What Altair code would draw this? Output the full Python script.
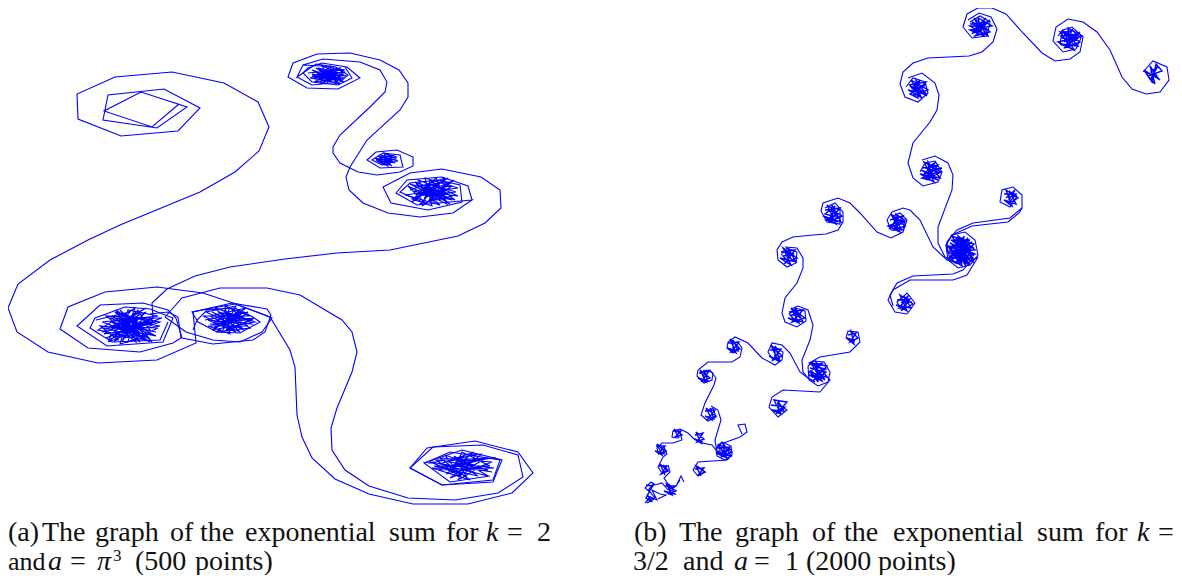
import altair as alt
import pandas as pd

# ---------- panel (a): curves ----------
A_TOPLEFT_TO_CLUSTER = [(179,104),(152,127),(104,111),(141,92),(187,107),(157,128),(103,120),(108,95),(164,89),(200,108),(178,131),(121,136),(78,119),(77,94),(115,77),(172,72),(224,83),(258,102),(269,127),(259,151),(235,172),(200,192),(120,225),(88,240),(50,260),(18,284),(8,308),(17,332),(48,352),(98,363),(157,360),(196,343),(193,312),(232,303),(267,309),(271,315),(265,332),(253,340),(213,344),(182,338),(176,318),(168,310),(143,303),(100,305),(77,326),(107,346),(163,342),(173,318),(150,309),(125,307),(95,318),(90,328),(112,342),(160,340),(168,322)]
A_LEFT_TO_BOTTOM = [(150,314),(168,312),(178,317),(181,338),(173,343),(140,352),(88,348),(60,329),(68,307),(105,292),(157,287),(203,293),(233,303),(270,317),(290,350),(295,367),(297,415),(302,437),(312,458),(335,479),(369,494),(413,504),(468,504),(512,493),(533,473),(518,452),(475,441),(427,448),(410,468),(442,485),(493,482),(502,460),(462,450),(424,463),(450,482),(490,476)]
A_CLUSTER2_RINGS = [(193,330),(197,320),(207,310),(235,308),(253,317),(260,322),(240,333),(217,332),(198,322),(192,312),(235,304),(262,314),(272,318),(262,332),(240,342),(213,340),(186,332),(165,317)]
A_LONG_S = [(153,318),(152,303),(167,289),(195,276),(230,267),(285,259),(337,253),(390,250),(458,236),(485,223),(501,208),(500,190),(481,177),(442,169),(410,173),(383,187),(391,203),(428,210),(462,202),(460,185),(438,180),(410,183),(400,192),(425,203)]
A_BOTTOM_TO_TOP = [(165,317),(182,298),(220,288),(267,288),(300,295),(342,320),(352,332),(357,352),(352,372),(337,408),(331,428),(332,450),(345,470),(369,486),(408,498),(455,500),(498,493),(523,477),(518,455),(483,445),(433,447),(410,468),(442,485),(493,480),(500,460),(450,452),(425,463)]
A_RIGHT_TO_TOP = [(472,200),(468,186),(442,177),(407,180),(396,193),(417,205),(472,200),(453,213),(420,217),(388,213),(363,203),(349,190),(346,177),(350,167),(367,140),(400,110),(408,97),(408,83),(399,70),(380,60),(350,53),(317,54),(293,63),(288,77),(307,88),(338,89),(360,78),(347,67),(322,63),(308,68),(303,73),(312,82),(338,85),(352,78),(345,67)]
A_TOP_S = [(345,70),(322,66),(303,65),(297,77),(312,85),(340,82),(348,75),(336,67),(316,64),(297,77),(303,65),(323,59),(360,62),(380,70),(387,82),(385,92),(370,107),(340,135),(333,147),(333,153),(340,163),(358,172),(377,175),(400,172),(413,166),(413,157),(397,150),(376,152),(367,160),(380,168),(403,167),(400,155),(383,153),(372,160),(382,165)]

A_DENSE_TOP = [(308,73),(338,70),(314,82),(344,78),(316,68),(340,84),(312,76),(345,72),(320,84),(330,66),(336,84),(312,70),(342,80),(318,73),(346,76),(322,66),(332,82),(310,78),(340,68),(326,84),(316,72),(344,82),(322,70),(336,78),(314,78),(338,74),(320,80),(330,70),(342,75),(318,78),(334,68),(325,82),(312,74),(340,78),(328,68),(322,76),(336,72),(318,68),(330,78),(344,70),(324,72),(334,76),(316,76),(338,81),(326,75),(332,71),(320,76),(328,80)]
A_DENSE_CENTER = [(376,160),(394,155),(382,165),(398,161),(378,156),(392,166),(380,160),(397,157),(384,153),(388,166),(375,158),(395,163),(383,156),(391,160),(379,163),(396,159),(386,154),(385,165),(377,161),(393,158),(381,155),(390,164),(384,160),(394,162),(378,159),(388,156)]
A_DENSE_RIGHT = [(410,190),(445,178),(420,204),(452,196),(415,182),(440,205),(405,195),(458,188),(425,178),(432,206),(412,199),(450,182),(418,186),(455,200),(430,180),(424,202),(408,186),(447,204),(436,178),(416,196),(456,192),(428,184),(440,200),(414,191),(452,186),(422,206),(444,190),(418,180),(436,204),(426,192),(458,196),(432,184),(412,202),(448,178),(420,194),(442,198),(430,188),(450,204),(416,184),(438,192),(424,198),(454,180),(434,196),(410,184),(446,194),(428,202),(440,182),(422,188),(452,200),(418,192)]
A_DENSE_LEFT = [(96,320),(130,312),(108,340),(150,322),(115,312),(145,340),(98,330),(135,308),(122,342),(140,312),(104,334),(160,326),(118,318),(148,338),(102,322),(158,316),(128,310),(118,340),(100,326),(150,330),(138,310),(110,336),(152,318),(106,316),(140,342),(126,320),(156,336),(112,328),(146,312),(114,342),(132,316),(152,342),(120,310),(138,336),(104,328),(156,322),(116,334),(162,318),(110,318),(150,334),(124,338),(144,318),(110,326),(158,328),(128,342),(134,320),(108,342),(160,322),(118,314),(140,334),(112,316),(150,342),(122,328),(148,322),(106,338),(154,318),(130,332),(116,310),(144,330),(126,314),(136,342),(112,322),(156,332),(120,324),(146,308),(102,332),(134,326),(142,338),(120,344),(128,318)]
A_DENSE_RIGHT2 = [(205,320),(245,312),(212,330),(255,322),(215,308),(240,332),(203,316),(250,316),(225,306),(230,334),(208,326),(248,326),(218,312),(252,320),(222,332),(236,306),(206,312),(244,330),(228,314),(214,322),(254,318),(232,328),(210,316),(246,308),(220,326),(238,318),(216,332),(250,328),(224,310),(234,322),(212,312),(242,326),(226,330),(248,312),(218,320),(236,332),(208,320),(252,324),(230,308),(222,322),(244,316),(214,328),(240,310),(228,326),(210,324),(246,320),(232,314),(220,316)]
A_DENSE_BOTTOM = [(428,463),(482,454),(450,478),(492,462),(440,458),(470,480),(432,468),(488,470),(445,455),(462,478),(436,460),(496,458),(456,462),(478,476),(434,466),(490,466),(462,452),(452,472),(444,468),(486,458),(466,470),(476,454),(448,462),(494,468),(438,470),(470,460),(458,480),(482,466),(446,474),(474,452),(440,464),(488,476),(454,456),(466,476),(430,462),(492,472),(460,466),(480,460),(450,468),(464,456)]

# ---------- panel (b): curves ----------
B_ARM_1 = [(1143,72),(1153,61),(1167,67),(1169,80),(1160,92),(1146,94),(1132,89),(1122,77),(1110,50),(1097,32),(1083,22),(1068,19),(1056,27),(1053,41),(1063,52),(1076,49),(1081,38),(1072,30),(1062,33),(1060,44)]
B_ARM_1B = [(1058,36),(1063,30),(1072,27),(1083,37),(1080,52),(1070,59),(1055,61),(1042,53),(1023,33),(1006,14),(992,8),(978,8),(967,14),(963,27),(972,38),(987,36),(990,22),(980,16),(970,22)]
B_ARM_1C = [(968,20),(979,13),(991,17),(997,29),(993,42),(982,52),(969,56),(928,58),(913,63),(903,72),(900,84),(905,97),(918,102),(928,93),(925,82),(913,78),(906,87)]
B_ARM_1D = [(908,78),(922,73),(935,83),(939,95),(937,110),(930,122),(913,143),(908,163),(913,178),(923,186),(938,182),(942,172),(935,161),(925,163),(920,172)]
B_ARM_1E = [(922,160),(935,156),(948,163),(953,175),(952,190),(938,227),(938,243),(945,257),(955,263)]
B_ARM_2 = [(955,262),(947,260),(933,247),(920,220),(910,210),(903,208),(892,212),(887,220),(891,230),(903,230),(905,220),(897,216)]
B_ARM_2B = [(893,216),(900,213),(907,220),(903,232),(891,238),(877,232),(860,213),(850,203),(838,198),(823,203),(821,211),(827,222),(840,224),(840,210),(830,207)]
B_ARM_2C = [(825,208),(835,203),(843,212),(843,222),(838,230),(826,234),(813,235),(793,237),(782,242),(777,250),(778,260),(787,267),(796,263),(797,252),(787,248),(781,255)]
B_ARM_2D = [(785,247),(797,248),(803,258),(803,268),(797,283),(785,298),(782,313),(785,322),(797,327),(806,321),(805,311),(796,308),(789,314)]
B_ARM_2E = [(791,309),(798,306),(808,310),(813,325),(810,340),(802,360),(803,372),(808,378),(815,382)]
B_RING_C5 = [(946,245),(952,235),(965,232),(975,240),(978,255),(970,265),(958,268),(948,260),(946,245)]
B_RING_C12 = [(808,366),(814,361),(824,362),(830,372),(828,382),(818,386),(809,380),(808,366)]
B_RING_C19 = [(716,448),(722,442),(731,446),(732,455),(725,460),(717,456),(716,448)]
B_ARM_C6A = [(950,258),(946,245),(952,235),(972,226),(1008,222),(1019,213),(1022,208),(1022,195),(1013,187),(1002,190),(1000,202),(1010,207),(1017,196),(1010,192)]
B_ARM_C6B = [(948,252),(947,242),(957,230),(973,223),(1010,218),(1022,208)]
B_ARM_C7A = [(970,262),(978,257),(967,275),(953,280),(910,280),(893,290),(888,300),(895,312),(907,314),(915,303),(907,293),(897,302),(902,311)]
B_ARM_C7B = [(968,254),(973,258),(963,270),(953,274),(913,276),(897,283),(890,295),(893,306)]
B_ARM_3 = [(815,382),(808,378),(800,372),(790,353),(782,345),(772,343),(768,352),(773,360),(780,356)]
B_ARM_3B = [(775,347),(783,352),(782,360),(775,365),(762,358),(748,343),(735,337),(728,342),(727,348),(733,353),(739,348),(734,342)]
B_ARM_3C = [(737,341),(742,348),(740,357),(732,362),(708,362),(698,370),(697,376),(704,383),(712,380),(713,373),(706,370)]
B_ARM_3D = [(703,371),(710,370),(716,378),(714,385),(705,403),(701,415),(708,421),(716,417),(713,408),(708,411)]
B_ARM_3E = [(711,406),(718,410),(721,420),(715,440),(717,452),(722,456)]
B_ARM_C13 = [(814,366),(809,363),(820,357),(850,352),(860,342),(858,332),(848,331),(846,338),(853,343)]
B_ARM_C14 = [(825,375),(830,380),(820,392),(783,390),(772,397),(769,407),(778,417),(787,410),(777,403)]
B_ARM_4 = [(720,455),(712,445),(702,443),(693,438),(688,433),(680,429),(673,431),(672,437),(678,438)]
B_ARM_4B = [(680,432),(682,440),(673,443),(662,443),(657,448),(658,453),(665,452),(660,447)]
B_ARM_4C = [(664,447),(667,454),(663,457),(658,467),(662,473),(668,470),(663,465)]
B_ARM_4D = [(668,465),(670,472),(664,478),(668,484),(670,490)]
B_ARM_C24 = [(720,450),(718,445),(740,437),(747,432),(745,424),(738,425),(742,434)]
B_ARM_C25 = [(730,457),(727,460),(698,462),(693,470),(698,476),(705,472),(697,466)]
B_ARM_C27 = [(668,490),(676,486),(680,480),(677,484),(681,476),(684,482)]
B_ARM_END = [(668,490),(662,483),(655,485),(651,482),(645,488),(650,492),(655,498),(648,500),(645,503),(650,497),(657,500),(652,490),(660,494),(666,495),(658,499)]

B_DENSE_C0 = [(1146,72),(1158,78),(1150,66),(1155,84),(1148,76),(1162,71),(1156,64),(1152,82),(1144,70),(1160,80),(1151,72),(1158,66),(1150,80),(1156,74)]
B_DENSE_C1 = [(1060,36),(1078,34),(1064,48),(1080,42),(1062,30),(1074,50),(1058,42),(1082,36),(1068,28),(1070,48),(1060,44),(1078,46),(1066,32),(1076,40),(1062,38),(1072,30),(1066,46),(1080,32),(1064,42),(1074,36),(1060,32),(1068,44),(1078,38),(1070,34),(1066,38),(1076,46)]
B_DENSE_C2 = [(970,24),(988,22),(975,36),(990,32),(974,18),(984,36),(970,30),(992,26),(978,18),(982,34),(972,22),(988,30),(976,28),(986,18),(972,34),(990,20),(980,26),(974,30),(986,34),(978,22),(984,26),(970,26),(988,36),(982,20)]
B_DENSE_C3 = [(909,85),(926,82),(913,96),(928,90),(911,80),(922,98),(908,90),(926,94),(916,80),(918,98),(910,94),(924,86),(914,84),(927,96),(912,88),(920,80),(916,92),(924,92),(910,86),(920,96),(914,90),(926,84)]
B_DENSE_C4 = [(922,168),(938,165),(926,180),(941,172),(924,162),(934,182),(920,174),(940,178),(928,162),(930,180),(922,178),(938,172),(926,168),(936,162),(924,174),(942,168),(930,170),(934,176),(921,170),(938,180),(928,176),(936,168)]
B_DENSE_C5 = [(950,243),(972,254),(955,263),(974,244),(952,236),(968,264),(948,252),(975,250),(958,236),(962,266),(949,258),(973,258),(954,240),(970,240),(950,248),(966,262),(956,238),(974,248),(948,246),(960,264),(964,236),(957,262),(972,246),(951,254),(968,238),(954,258),(975,254),(952,244),(966,266),(958,242),(970,260),(950,250),(962,238),(973,262),(954,252),(968,244),(956,264),(965,250),(951,240),(971,250),(959,258),(963,244),(953,248),(967,256),(957,246),(969,252),(960,240),(964,262),(955,254),(972,242),(952,260),(966,242),(958,252),(962,256),(956,248),(970,264),(950,256),(964,252),(960,246),(974,256)]
B_DENSE_C6 = [(1004,194),(1016,194),(1008,204),(1018,198),(1006,190),(1012,206),(1004,200),(1016,204),(1010,192),(1009,200),(1015,190),(1006,198)]
B_DENSE_C7 = [(897,300),(910,299),(902,310),(913,304),(900,295),(907,311),(896,305),(911,308),(904,296),(906,306),(899,308),(909,295),(902,302),(912,302)]
B_DENSE_C8 = [(890,220),(903,216),(894,230),(905,226),(891,214),(900,232),(888,226),(904,220),(896,214),(897,230),(892,224),(902,230),(894,218),(905,222),(890,228),(899,216),(896,224),(902,224)]
B_DENSE_C9 = [(825,210),(840,208),(829,222),(842,216),(827,205),(836,224),(823,216),(841,222),(832,205),(833,222),(826,220),(838,214),(830,210),(840,218),(825,214),(835,206),(830,218),(838,222)]
B_DENSE_C10 = [(781,252),(795,250),(785,263),(797,258),(783,248),(791,265),(780,258),(796,262),(788,248),(789,262),(783,256),(794,254),(786,252),(792,260)]
B_DENSE_C11 = [(789,312),(803,310),(792,322),(805,318),(791,308),(799,323),(788,318),(803,322),(795,307),(796,321),(790,315),(801,314),(794,312),(800,318)]
B_DENSE_C12 = [(810,368),(826,372),(813,381),(827,366),(811,363),(822,381),(809,375),(827,377),(816,362),(818,382),(811,371),(825,380),(814,365),(823,363),(809,372),(820,379),(816,367),(826,369),(812,377),(822,372),(817,374),(824,375)]
B_DENSE_C13 = [(848,335),(856,333),(850,342),(858,338),(851,331),(854,344),(847,338),(855,341)]
B_DENSE_C14 = [(771,405),(785,407),(776,414),(787,402),(774,400),(781,414),(772,410),(784,411),(778,401),(779,410)]
B_DENSE_C15 = [(770,350),(781,349),(773,360),(782,356),(771,345),(778,361),(769,356),(780,361),(775,346),(775,358)]
B_DENSE_C16 = [(728,343),(739,342),(731,352),(740,349),(730,339),(736,353),(727,348),(738,351),(733,340),(733,350)]
B_DENSE_C17 = [(699,373),(709,371),(702,381),(710,378),(700,370),(706,382),(698,378),(708,381),(704,370),(704,379)]
B_DENSE_C18 = [(705,411),(715,410),(708,419),(716,416),(706,408),(712,420),(705,416),(714,419),(710,408)]
B_DENSE_C19 = [(717,448),(730,447),(721,457),(732,452),(718,444),(727,458),(716,453),(731,456),(723,443),(725,456),(718,451),(729,450),(722,446),(727,454),(720,454),(731,449)]
B_DENSE_C20 = [(695,435),(703,433),(697,442),(704,439),(696,432),(701,443),(694,439),(703,442)]
B_DENSE_C21 = [(673,431),(681,431),(675,437),(682,435),(674,429),(679,438)]
B_DENSE_C22 = [(656,446),(665,446),(658,454),(666,451),(657,444),(662,455),(655,451),(665,454)]
B_DENSE_C23 = [(659,466),(667,466),(661,474),(668,471),(660,464),(665,475)]
B_DENSE_C25 = [(695,469),(704,468),(698,475),(705,472),(696,466),(701,476)]
B_DENSE_C26 = [(665,486),(675,486),(668,494),(676,491),(666,483),(672,495),(664,491),(675,494),(669,484),(670,492)]
B_DENSE_C28 = [(646,485),(653,486),(648,491),(654,483),(646,498),(652,502),(648,496),(654,499),(647,503)]

CURVES = {
    "a1": A_TOPLEFT_TO_CLUSTER, "a2": A_LEFT_TO_BOTTOM, "a3": A_CLUSTER2_RINGS, "a4": A_LONG_S,
    "a5": A_BOTTOM_TO_TOP, "a6": A_RIGHT_TO_TOP, "a8": A_TOP_S,
    "a9": A_DENSE_TOP, "a10": A_DENSE_CENTER, "a11": A_DENSE_RIGHT, "a12": A_DENSE_LEFT,
    "a13": A_DENSE_RIGHT2, "a14": A_DENSE_BOTTOM,
    "b1": B_ARM_1, "b1b": B_ARM_1B, "b1c": B_ARM_1C, "b1d": B_ARM_1D, "b1e": B_ARM_1E,
    "b2": B_ARM_2, "b2b": B_ARM_2B, "b2c": B_ARM_2C, "b2d": B_ARM_2D, "b2e": B_ARM_2E,
    "r5": B_RING_C5, "r12": B_RING_C12, "r19": B_RING_C19,
    "b4": B_ARM_C6A, "b5": B_ARM_C6B, "b6": B_ARM_C7A, "b7": B_ARM_C7B,
    "b8": B_ARM_3, "b8b": B_ARM_3B, "b8c": B_ARM_3C, "b8d": B_ARM_3D, "b8e": B_ARM_3E,
    "b9": B_ARM_C13, "b10": B_ARM_C14,
    "b11": B_ARM_4, "b11b": B_ARM_4B, "b11c": B_ARM_4C, "b11d": B_ARM_4D,
    "b12": B_ARM_C24, "b13": B_ARM_C25, "b14": B_ARM_C27, "b15": B_ARM_END,
}
DENSE = {
    "c0": B_DENSE_C0, "c1": B_DENSE_C1, "c2": B_DENSE_C2, "c3": B_DENSE_C3, "c4": B_DENSE_C4, "c5": B_DENSE_C5,
    "c6": B_DENSE_C6, "c7": B_DENSE_C7, "c8": B_DENSE_C8, "c9": B_DENSE_C9, "c10": B_DENSE_C10, "c11": B_DENSE_C11,
    "c12": B_DENSE_C12, "c13": B_DENSE_C13, "c14": B_DENSE_C14, "c15": B_DENSE_C15, "c16": B_DENSE_C16,
    "c17": B_DENSE_C17, "c18": B_DENSE_C18, "c19": B_DENSE_C19, "c20": B_DENSE_C20, "c21": B_DENSE_C21,
    "c22": B_DENSE_C22, "c23": B_DENSE_C23, "c25": B_DENSE_C25, "c26": B_DENSE_C26, "c28": B_DENSE_C28,
}

# ---------- captions ----------
L1 = 541
L2 = 570
ROMAN = [("(a)",8,L1),("The",42,L1),("graph",95,L1),("of",170,L1),("the",200,L1),("exponential",245,L1),
         ("sum",389,L1),("for",446,L1),("=",507,L1),("2",537,L1),("=",70,L2),("(500",135,L2),("points)",195,L2),
         ("(b)",634,L1),("The",679,L1),("graph",735,L1),("of",812,L1),("the",844,L1),("exponential",893,L1),
         ("sum",1037,L1),("for",1095,L1),("=",1158,L1),("3/2",633,L2),("and",683,L2),("=",754,L2),("1",785,L2),("(2000",806,L2),("points)",878,L2)]
ROMAN_SMALL = [("and",8,L2)]
ITALIC = [("k",486,L1),("a",48,L2),("π",97,L2),("k",1137,L1),("a",734,L2)]
SUPER = [("3",113,L2 - 9)]


def frame(curves):
    rows = [{"curve": k, "i": i, "x": p[0], "y": p[1]} for k, pts in curves.items() for i, p in enumerate(pts)]
    return pd.DataFrame(rows)


X = alt.X("x:Q", axis=None, scale=alt.Scale(domain=[8, 1174], nice=False, zero=False))
Y = alt.Y("y:Q", axis=None, scale=alt.Scale(domain=[575, 8], nice=False, zero=False))


def line_layer(curves, w):
    return alt.Chart(frame(curves)).mark_line(color="#0000ff", strokeWidth=w, interpolate="linear").encode(
        x=X, y=Y, detail="curve:N", order="i:Q")


def text_layer(items, **kw):
    d = pd.DataFrame(items, columns=["t", "x", "y"])
    return alt.Chart(d).mark_text(align="left", baseline="alphabetic", font="Liberation Serif", color="#111111", **kw).encode(
        x=X, y=Y, text="t:N")


chart = alt.layer(
    line_layer(CURVES, 1.1),
    line_layer(DENSE, 1.4),
    text_layer(ROMAN, fontSize=28),
    text_layer(ROMAN_SMALL, fontSize=26),
    text_layer(ITALIC, fontSize=28, fontStyle="italic"),
    text_layer(SUPER, fontSize=17),
).properties(width=1166, height=567, padding=0, autosize=alt.AutoSizeParams(type="none")).configure_view(stroke=None)

chart.save("out.html", embed_options={"renderer": "svg", "actions": False})
